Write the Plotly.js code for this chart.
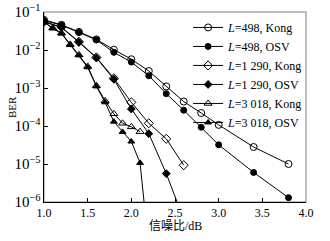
<!DOCTYPE html>
<html>
<head>
<meta charset="utf-8">
<script src="https://cdn.plot.ly/plotly-3.0.1.min.js"></script>
<style>html,body{margin:0;padding:0;background:#fff;}#chart{width:330px;height:241px;}</style>
</head>
<body>
<div id="chart"></div>
<script>
// SNR (dB) and BER values
const snr498 = [1.0, 1.2, 1.4, 1.6, 1.8, 2.0, 2.2, 2.4, 2.6, 2.8, 3.0, 3.4, 3.8];
const kong498 = [6.2e-2, 4.6e-2, 3.0e-2, 1.9e-2, 1.02e-2, 5.7e-3, 2.8e-3, 1.1e-3, 4.4e-4, 2.2e-4, 1.07e-4, 2.8e-5, 1.0e-5];
const osv498 = [6.0e-2, 4.5e-2, 2.9e-2, 1.85e-2, 8.7e-3, 4.8e-3, 2.1e-3, 7.1e-4, 2.6e-4, 9.3e-5, 3.2e-5, 6.0e-6, 1.3e-6];

const snr1290 = [1.0, 1.2, 1.4, 1.6, 1.8, 2.0, 2.2, 2.4, 2.6];
const kong1290 = [5.6e-2, 4.0e-2, 1.65e-2, 6.4e-3, 1.8e-3, 4.2e-4, 1.18e-4, 4.6e-5, 9.3e-6];
const osv1290 = [5.5e-2, 3.9e-2, 1.6e-2, 6.2e-3, 1.7e-3, 2.8e-4, 6.3e-5, 5.6e-6, 3.5e-7];

const snr3018Kong = [1.0, 1.1, 1.2, 1.3, 1.4, 1.5, 1.6, 1.7, 1.8, 1.9, 2.0, 2.1];
const kong3018 = [5.5e-2, 3.8e-2, 2.8e-2, 1.4e-2, 7.5e-3, 3.7e-3, 1.15e-3, 4.6e-4, 2.1e-4, 1.18e-4, 9.5e-5, 7.1e-5];
const snr3018Osv = [1.0, 1.1, 1.2, 1.3, 1.4, 1.5, 1.6, 1.7, 1.8, 1.9, 2.0, 2.1, 2.2];
const osv3018 = [5.4e-2, 3.7e-2, 2.7e-2, 1.35e-2, 7.2e-3, 3.5e-3, 1.1e-3, 4.2e-4, 1.3e-4, 7.0e-5, 3.9e-5, 1.07e-5, 6e-8];

const seriesNames = [
  '<i>L</i>=498, Kong', '<i>L</i>=498, OSV',
  '<i>L</i>=1 290, Kong', '<i>L</i>=1 290, OSV',
  '<i>L</i>=3 018, Kong', '<i>L</i>=3 018, OSV'
];
const xTitle = '信噪比/dB';
const yTitle = 'BER';

const serif = 'Liberation Serif, Times New Roman, Noto Sans CJK SC, serif';

function tr(x, y, name, symbol, size) {
  return {
    x: x, y: y, name: name, type: 'scatter', mode: 'lines+markers',
    line: {color: '#000', width: 1},
    marker: {symbol: symbol, size: size, color: '#000', line: {color: '#000', width: 1}}
  };
}

const data = [
  tr(snr498, kong498, seriesNames[0], 'circle-open', 7),
  tr(snr498, osv498, seriesNames[1], 'circle', 6),
  tr(snr1290, kong1290, seriesNames[2], 'diamond-open', 7),
  tr(snr1290, osv1290, seriesNames[3], 'diamond', 6),
  tr(snr3018Kong, kong3018, seriesNames[4], 'triangle-up-open', 7),
  tr(snr3018Osv, osv3018, seriesNames[5], 'triangle-up', 6)
];

const layout = {
  width: 330, height: 241,
  margin: {l: 44, r: 24, t: 12, b: 39},
  paper_bgcolor: '#fff', plot_bgcolor: '#fff',
  font: {family: serif, size: 12, color: '#000'},
  showlegend: true,
  legend: {
    x: 0.55, y: 0.995, xanchor: 'left', yanchor: 'top',
    bgcolor: 'rgba(0,0,0,0)', borderwidth: 0,
    font: {family: serif, size: 12, color: '#000'}
  },
  xaxis: {
    range: [1, 4], dtick: 0.5, tick0: 1, tickformat: '.1f',
    showgrid: false, zeroline: false,
    showline: true, linecolor: '#000', linewidth: 1,
    ticks: 'inside', ticklen: 4, tickcolor: '#000',
    tickfont: {family: serif, size: 12}
  },
  yaxis: {
    type: 'log', range: [-6, -1], dtick: 1, exponentformat: 'power',
    showgrid: false, zeroline: false,
    showline: true, linecolor: '#000', linewidth: 1,
    ticks: 'inside', ticklen: 4, tickcolor: '#000',
    tickfont: {family: serif, size: 12}
  },
  annotations: [
    {text: xTitle, xref: 'paper', yref: 'paper', x: 0.5, y: 0,
     xanchor: 'center', yanchor: 'top', yshift: -15, showarrow: false,
     font: {family: serif, size: 12, color: '#000'}},
    {text: yTitle, xref: 'paper', yref: 'paper', x: 0, y: 0.5,
     xanchor: 'center', yanchor: 'middle', xshift: -32, textangle: -90, showarrow: false,
     font: {family: serif, size: 11, color: '#000'}}
  ],
  shapes: [{
    type: 'rect', xref: 'paper', yref: 'paper', x0: 0, x1: 1, y0: 0, y1: 1,
    line: {color: '#aaaaaa', width: 1.5}, layer: 'below'
  }]
};

Plotly.newPlot('chart', data, layout, {displayModeBar: false, staticPlot: true});
</script>
</body>
</html>
